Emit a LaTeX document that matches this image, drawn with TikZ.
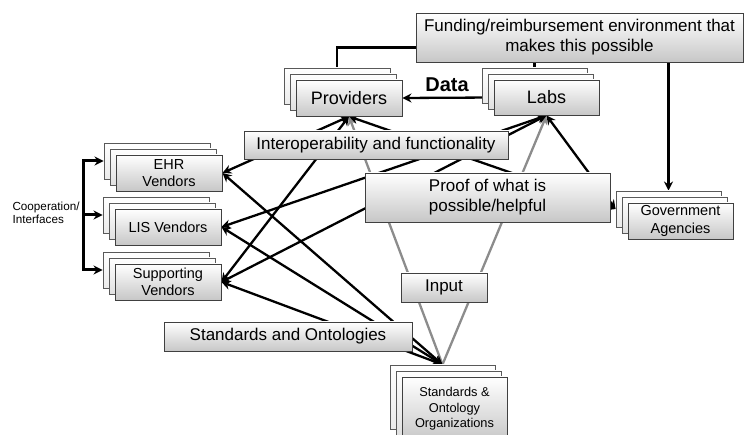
\documentclass[tikz,border=0pt]{standalone}
\usepackage{fontspec}
\setmainfont{Liberation Sans}
\usetikzlibrary{shadows,calc,backgrounds,arrows.meta}

\tikzset{
  box/.style={draw=black!75, line width=0.9pt, top color=white, bottom color=black!22,
    align=center, inner sep=0pt, font=\fontsize{17}{20}\selectfont},
  stack/.style={box,
    copy shadow={shadow xshift=-12pt, shadow yshift=12pt, draw=black!65, line width=0.9pt,
      top color=white, bottom color=black!8},
    copy shadow={shadow xshift=-6pt, shadow yshift=6pt, draw=black!65, line width=0.9pt,
      top color=white, bottom color=black!12}},
  vendor/.style={stack, minimum width=106pt, minimum height=36pt,
    font=\fontsize{14.5}{17.5}\selectfont},
  link/.style={line width=2.3pt, <->},
  feed/.style={line width=2.3pt, black!45, ->},
  coopline/.style={line width=3pt},
}

\begin{document}
\begin{tikzpicture}[x=1pt, y=-1pt, >={Stealth[length=9pt,width=9pt]}]
    \useasboundingbox (0,0) rectangle (748,435);
    \clip (0,0) rectangle (748,435);

    % top row
    \node[box, minimum width=327pt, minimum height=49pt] (fund) at (579.5,37.5)
        {Funding/reimbursement environment that\\makes this possible};
    \node[stack, minimum width=106pt, minimum height=36pt, font=\fontsize{18}{21}\selectfont]
        (prov) at (349,98) {Providers};
    \node[stack, minimum width=105pt, minimum height=35pt, font=\fontsize{18}{21}\selectfont]
        (labs) at (546.5,97.5) {Labs};
    \node[font=\bfseries\fontsize{20}{24}\selectfont] (data) at (447,85) {Data};

    % middle boxes
    \node[box, minimum width=264pt, minimum height=28pt] (interop) at (376,145)
        {Interoperability and functionality};
    \node[box, minimum width=245pt, minimum height=49pt] (proof) at (487.5,197.5)
        {Proof of what is\\possible/helpful};
    \node[box, minimum width=86pt, minimum height=29pt] (input) at (444,287.5) {Input};
    \node[box, minimum width=248pt, minimum height=29pt] (std) at (288,336.5)
        {Standards and Ontologies};

    % vendors and agencies
    \node[vendor] (ehr) at (169,173) {EHR\\Vendors};
    \node[vendor] (lis) at (168,227) {LIS Vendors};
    \node[vendor] (sup) at (168,282) {Supporting\\Vendors};
    \node[vendor, minimum width=105pt] (gov) at (680.5,221) {Government\\Agencies};
    \node[stack, minimum width=105pt, minimum height=64pt, font=\fontsize{12.8}{15.5}\selectfont]
        (sdo) at (454.5,409) {Standards \&\\Ontology\\Organizations};
    \node[anchor=west, align=left, font=\fontsize{11.7}{13.5}\selectfont] (coop) at (9,213)
        {Cooperation/\\Interfaces};

    % back sheets of the stacks
    \coordinate (provtop) at ($(prov.north)+(-12,-12)$);
    \coordinate (labstop) at ($(labs.north)+(-12,-12)$);
    \coordinate (govtop) at ($(gov.north)+(-12,-12)$);
    \coordinate (govside) at ($(gov.west)+(-12,-12)$);
    \coordinate (sdotop) at ($(sdo.north)+(-12,-12)$);
    \coordinate (coopbar) at (83,215);

    \begin{pgfonlayer}{background}
        \draw[line width=2.3pt] ($(fund.west)+(0,10)$) -| (provtop);
        \draw[line width=2.3pt] (fund.south -| labstop) -- (labstop);
        \draw[line width=2.3pt, ->] (fund.south -| govtop) -- (govtop);
        \draw[line width=2.3pt, ->] (labs.west) -- (prov.east);

        \foreach \dst in {prov.south, labs.south}
            \draw[feed] (sdotop) -- (\dst);
        \foreach \dst in {ehr.east, sup.east, govside}
            \draw[link] (prov.south) -- (\dst);
        \foreach \dst in {lis.east, sup.east, govside}
            \draw[link] (labs.south) -- (\dst);
        \foreach \src in {ehr.east, lis.east, sup.east}
            \draw[link] (\src) -- (sdotop);

        \draw[coopline, <->] ($(ehr.west)+(-12,-12)$) -| (coopbar) |- ($(sup.west)+(-12,-12)$);
        \draw[coopline, ->] (coopbar) -- ($(lis.west)+(-12,-12)$);
    \end{pgfonlayer}
\end{tikzpicture}
\end{document}
